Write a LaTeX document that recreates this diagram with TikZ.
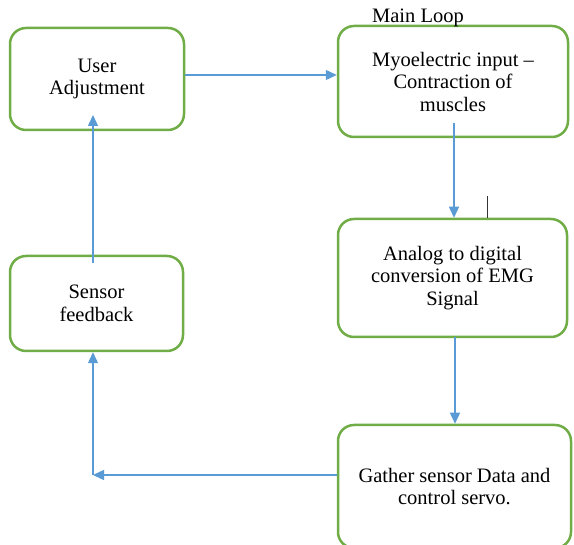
\documentclass[tikz,border=0pt]{standalone}
\usepackage{fontspec}
\setmainfont{Liberation Serif}
\usepackage{xcolor}
\usetikzlibrary{positioning,arrows.meta}
\definecolor{boxgreen}{RGB}{112,173,71}
\definecolor{flowblue}{RGB}{91,155,213}

\begin{document}
\begin{tikzpicture}[x=1pt, y=-1pt,
  font=\fontsize{20.5}{22.5}\selectfont,
  blk/.style={draw=boxgreen, line width=2.5pt, rounded corners=16pt, align=center, inner sep=0pt},
  flow/.style={draw=flowblue, line width=1.4pt, -{Triangle[length=11pt,width=10pt]}}]
\useasboundingbox (0,0) rectangle (574,545);
\clip (0,0) rectangle (574,545);
% boxes of the loop
\node[blk, minimum width=174pt, minimum height=102pt] (user) at (97,79) {User\\Adjustment};
\node[blk, minimum width=230pt, minimum height=111pt] (myo) at (453,81.5) {Myoelectric input --\\Contraction of\\muscles};
\node[blk, minimum width=229pt, minimum height=118pt] (adc) at (452.5,278) {Analog to digital\\conversion of EMG\\Signal};
\node[blk, minimum width=173pt, minimum height=95pt] (sensor) at (96.5,303.5) {Sensor\\feedback};
\node[blk, minimum width=233pt, minimum height=123pt] (gather) at (454.5,486.5) {Gather sensor Data and\\control servo.};
\node[anchor=base] (mainloop) at (418,23) {Main Loop};
% connectors
\coordinate (mstart) at (454,123);
\coordinate (astart) at (455,337);
\coordinate (bend) at (93,475);
\coordinate (sstart) at (93,263);
\coordinate (uend) at (93,115);
\draw[flow] ([yshift=4pt]user.east) -- ([yshift=4pt]user.east -| myo.west);
\draw[flow] (mstart) -- (mstart |- adc.north);
\draw[flow] (astart) -- (astart |- gather.north);
\draw[flow] (bend -| gather.west) -- (bend);
\draw[flow] (bend) -- (bend |- sensor.south);
\draw[flow] (sstart) -- (uend);
% stray tick
\draw[line width=1pt, black!80] (487,196) -- (487,218);
\end{tikzpicture}
\end{document}
